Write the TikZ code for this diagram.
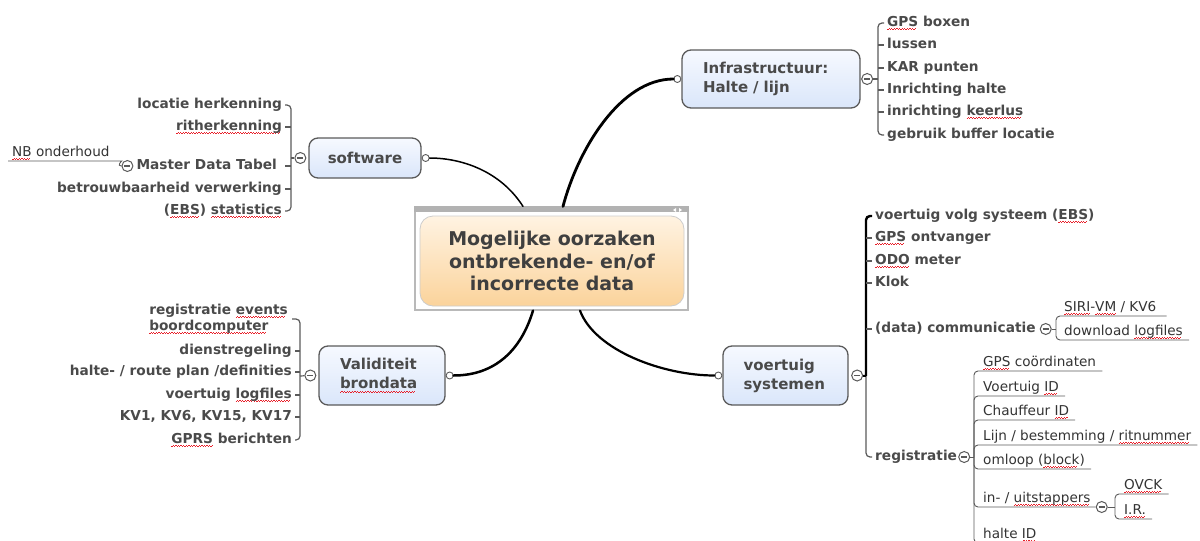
\documentclass[tikz,border=0pt]{standalone}
\usepackage{fontspec}
\setmainfont{DejaVu Sans}
\usetikzlibrary{calc}

\definecolor{txt}{HTML}{4A4A4A}
\definecolor{subtxt}{HTML}{333333}
\definecolor{edge}{HTML}{5A5A5A}
\definecolor{blueT}{HTML}{F6F9FF}
\definecolor{blueB}{HTML}{DAE6FA}
\definecolor{orT}{HTML}{FFF3E2}
\definecolor{orB}{HTML}{FBD39B}
\definecolor{waveRed}{HTML}{E8202A}

\newsavebox\spellbox
\newcommand\spell[1]{\leavevmode\sbox\spellbox{#1}\rlap{\color{waveRed}\leaders\hbox{\rule[-3.6pt]{1.3pt}{0.8pt}\rule[-2.6pt]{1.3pt}{0.8pt}}\hskip\wd\spellbox}\usebox\spellbox}

\tikzset{
	topic/.style={font=\bfseries\fontsize{13.7}{16}\selectfont, text=txt, inner sep=0pt, text height=10pt, text depth=3pt},
	topictwo/.style={font=\bfseries\fontsize{13.7}{16}\selectfont, text=txt, inner sep=0pt, align=left},
	leaf/.style={font=\fontsize{13.6}{16}\selectfont, text=subtxt, inner sep=0pt, text height=10pt, text depth=4.5pt},
	branch/.style={draw=edge, line width=1.3pt, rounded corners=9pt, top color=blueT, bottom color=blueB, font=\bfseries\fontsize{15}{19}\selectfont, text=txt, align=left},
	port/.style={circle, draw=edge, fill=white, line width=0.9pt, inner sep=0pt, minimum size=7pt},
	fold/.style={circle, draw=edge, fill=white, line width=1pt, inner sep=0pt, minimum size=11pt,
		path picture={\draw[edge, line width=1.1pt] ([xshift=-3pt]path picture bounding box.center) -- ([xshift=3pt]path picture bounding box.center);}},
	spine/.style={draw=edge, line width=1.2pt, rounded corners=4pt},
	twig/.style={draw=edge, line width=0.9pt, rounded corners=4pt},
	link/.style={line width=2.2pt, line cap=round},
}

\begin{document}
\begin{tikzpicture}[x=1pt, y=-1pt]
	\useasboundingbox (0,0) rectangle (1200,541);

	\begin{scope}
	\node[draw=gray!55, line width=1.2pt, minimum width=273pt, minimum height=103pt, inner sep=0pt] (frame) at (551.5,258.5) {};
	\fill[gray!60] (frame.north west) rectangle ([yshift=-6pt]frame.north east);
	\fill[white] (673,210) -- (676,208) -- (676,212) -- cycle;
	\fill[white] (679,208) -- (682,210) -- (679,212) -- cycle;
	\node[draw=gray!40, line width=0.8pt, rounded corners=13pt, top color=orT, bottom color=orB, minimum width=264pt, minimum height=90pt,
		align=center, font=\bfseries\fontsize{19}{22.5}\selectfont, text=txt!85!black] (core) at (552,261)
		{Mogelijke oorzaken\\ontbrekende- en/of\\incorrecte data};
	\end{scope}

	\node[branch, minimum width=178pt, minimum height=58pt, text width=136pt] (infra) at (771,79) {Infrastructuur:\\Halte / lijn};
	\node[branch, minimum width=112pt, minimum height=40pt] (soft) at (365,158) {software};
	\node[branch, minimum width=126pt, minimum height=59pt, text width=84pt] (valid) at (382,375.5) {Validiteit\\\spell{brondata}};
	\node[branch, minimum width=125pt, minimum height=59pt, text width=84pt] (voer) at (785.5,375.5) {voertuig\\systemen};

	\node[port] (infp) at ([xshift=-4pt]infra.west) {};
	\node[port] (swp) at ([xshift=4pt]soft.east) {};
	\node[port] (vap) at ([xshift=4pt]valid.east) {};
	\node[port] (vop) at ([xshift=-4pt]voer.west) {};

	\draw[link, line width=2.8pt] (infp) .. controls +(-57,0) and +(15,-57) .. ([xshift=11.5pt]frame.north);
	\draw[link, line width=1.5pt] (swp) .. controls +(35,0) and +(-23,-36) .. ([xshift=-28.5pt]frame.north);
	\draw[link, line width=2.5pt] ([xshift=-18.5pt]frame.south) .. controls +(-12,40) and +(45,0) .. (vap);
	\draw[link] ([xshift=28.5pt]frame.south) .. controls +(15,40) and +(-55,0) .. (vop);

	% infrastructuur
	\node[fold] (inf) at ([xshift=6.5pt]infra.east) {};
	\coordinate (ins) at (878,79);
	\node[topic, anchor=west] (gpsb) at (887,23) {\spell{GPS} boxen};
	\node[topic, anchor=west] (lus) at (887,45) {lussen};
	\node[topic, anchor=west] (kar) at (887,68) {KAR punten};
	\node[topic, anchor=west] (inh) at (887,90) {Inrichting halte};
	\node[topic, anchor=west] (keer) at (887,112) {inrichting \spell{keerlus}};
	\node[topic, anchor=west] (buf) at (887,135) {gebruik buffer locatie};
	\draw[spine] ([xshift=-3pt]gpsb.west) -| (ins) |- ([xshift=-3pt]buf.west);
	\foreach \n in {lus,kar,inh,keer}
		\draw[spine] (ins |- \n.west) -- ([xshift=-3pt]\n.west);
	\draw[spine] (inf) -- (ins);

	% software
	\node[fold] (swf) at ([xshift=-8pt]soft.west) {};
	\coordinate (sws) at (291,158);
	\node[topic, anchor=east] (loc) at (282,105) {locatie herkenning};
	\node[topic, anchor=east] (rit) at (282,127) {\spell{ritherkenning}};
	\node[topic, anchor=east] (mdt) at (277,166) {Master Data Tabel};
	\node[topic, anchor=east] (bet) at (282,189) {betrouwbaarheid verwerking};
	\node[topic, anchor=east] (ebs) at (282,211) {(\spell{EBS}) \spell{statistics}};
	\draw[spine] ([xshift=3pt]loc.east) -| (sws) |- ([xshift=3pt]ebs.east);
	\foreach \n in {rit,bet}
		\draw[spine] (sws |- \n.east) -- ([xshift=3pt]\n.east);
	\draw[spine] (sws |- mdt.east) -- ([xshift=8pt]mdt.east);
	\draw[spine] (swf) -- (sws);

	\node[fold] (mdf) at ([xshift=-9pt]mdt.west) {};
	\node[leaf, anchor=south west] (nb) at (12,161) {\spell{NB} onderhoud};
	\draw[twig] (mdf.west) .. controls +(-5,0) and +(4,0) .. ([xshift=8pt]nb.south east) -- ([xshift=-4pt]nb.south west);

	% validiteit
	\node[fold] (vaf) at ([xshift=-8pt]valid.west) {};
	\coordinate (vas) at (300,376);
	\node[topictwo, anchor=east] (evt) at (288,319) {registratie \spell{events}\\\spell{boordcomputer}};
	\node[topic, anchor=east] (dst) at (292,351) {dienstregeling};
	\node[topic, anchor=east] (hrp) at (292,372) {halte- / route plan /definities};
	\node[topic, anchor=east] (vlog) at (292,395) {voertuig \spell{logfiles}};
	\node[topic, anchor=east] (kv) at (292,417) {KV1, KV6, KV15, KV17};
	\node[topic, anchor=east] (gprs) at (292,440) {\spell{GPRS} berichten};
	\draw[spine] ([xshift=4pt]evt.east) -| (vas) |- ([xshift=3pt]gprs.east);
	\foreach \n in {dst,hrp,vlog,kv}
		\draw[spine] (vas |- \n.east) -- ([xshift=3pt]\n.east);
	\draw[spine] (vaf) -- (vas);

	% voertuig systemen
	\node[fold] (vof) at ([xshift=8.5pt]voer.east) {};
	\coordinate (vos) at (866,376);
	\node[topic, anchor=west] (vvs) at (875,216) {voertuig volg systeem (\spell{EBS})};
	\node[topic, anchor=west] (gpso) at (875,238) {\spell{GPS} ontvanger};
	\node[topic, anchor=west] (odo) at (875,261) {\spell{ODO} meter};
	\node[topic, anchor=west] (klok) at (875,283) {Klok};
	\node[topic, anchor=west] (com) at (875,329) {(data) communicatie};
	\node[topic, anchor=west] (reg) at (875,457) {registratie};
	\draw[spine, draw=black, line width=2.4pt] ([xshift=-3pt]vvs.west) -| (vos);
	\draw[spine] (vos) |- ([xshift=-3pt]reg.west);
	\foreach \n in {gpso,odo,klok,com}
		\draw[spine] (vos |- \n.west) -- ([xshift=-3pt]\n.west);
	\draw[spine, draw=black, line width=2pt] (vof) -- (vos);

	\node[fold] (comf) at ([xshift=10pt]com.east) {};
	\coordinate (coms) at (1056,329);
	\node[leaf, anchor=south west] (siri) at (1064,316) {\spell{SIRI}-\spell{VM} / KV6};
	\node[leaf, anchor=south west] (dl) at (1064,340) {download \spell{logfiles}};
	\draw[twig] ([xshift=10pt]siri.south east) -| (coms) |- ([xshift=6pt]dl.south east);
	\draw[twig] (comf) -- (coms);

	\node[fold] (regf) at ([xshift=7pt]reg.east) {};
	\coordinate (regs) at (974,457);
	\node[leaf, anchor=south west] (gpsc) at (983,371) {\spell{GPS} coördinaten};
	\node[leaf, anchor=south west] (vid) at (983,396) {Voertuig \spell{ID}};
	\node[leaf, anchor=south west] (cid) at (983,420) {Chauffeur \spell{ID}};
	\node[leaf, anchor=south west] (lijn) at (983,445) {Lijn / bestemming / \spell{ritnummer}};
	\node[leaf, anchor=south west] (oml) at (983,469) {omloop (\spell{block})};
	\node[leaf, anchor=south west] (inu) at (983,507) {in- / \spell{uitstappers}};
	\node[leaf, anchor=south west] (hid) at (983,543) {halte \spell{ID}};
	\foreach \n in {gpsc,vid,cid,lijn,oml,hid}
		\draw[twig] (regs) |- ([xshift=6pt]\n.south east);
	\draw[twig] (regf) -- (regs);

	\node[fold] (inuf) at ([xshift=11pt]inu.south east) {};
	\draw[twig] (regs) |- (inuf);
	\coordinate (inus) at (1115,507);
	\node[leaf, anchor=south west] (ovck) at (1124,494) {\spell{OVCK}};
	\node[leaf, anchor=south west] (ir) at (1124,519) {\spell{I.R.}};
	\draw[twig] ([xshift=6pt]ovck.south east) -| (inus) |- ([xshift=6pt]ir.south east);
	\draw[twig] (inuf) -- (inus);
\end{tikzpicture}
\end{document}
